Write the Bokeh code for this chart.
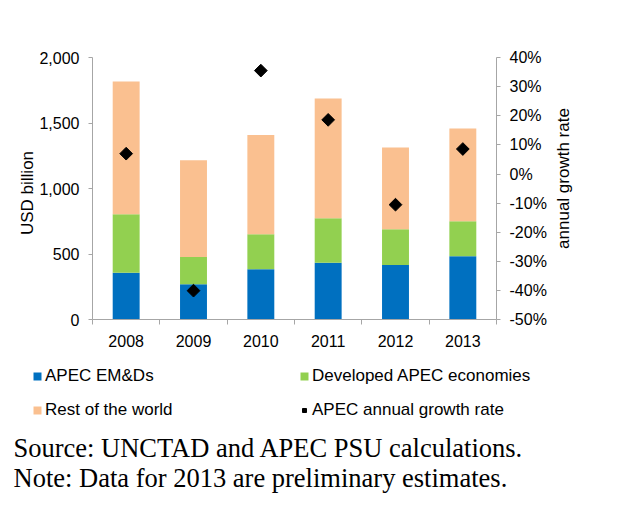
from bokeh.plotting import figure
from bokeh.models import (Range1d, LinearAxis, FixedTicker, NumeralTickFormatter,
                          PrintfTickFormatter, Legend, LegendItem, Label)
from bokeh.embed import file_html
from bokeh.resources import INLINE
import math

# ---- data ----
years = [2008, 2009, 2010, 2011, 2012, 2013]
apec_emds = [358, 272, 386, 435, 417, 485]
developed_apec = [447, 206, 267, 340, 274, 267]
rest_of_world = [1012, 739, 757, 912, 623, 707]
growth_rate = [7.0, -40.0, 35.5, 18.6, -10.5, 8.6]
series_names = ["APEC EM&Ds", "Developed APEC economies", "Rest of the world"]
growth_name = "APEC annual growth rate"
colors = ["#0070C0", "#92D050", "#FAC090"]
left_ticks = [0, 500, 1000, 1500, 2000]
right_ticks = [-50, -40, -30, -20, -10, 0, 10, 20, 30, 40]
y_title = "USD billion"
y2_title = "annual growth rate"
source_note = "Source: UNCTAD and APEC PSU calculations."
data_note = "Note: Data for 2013 are preliminary estimates."

# ---- layout (pixels) ----
W, H = 638, 519
PL, PR, PT, PB = 92, 496, 57, 319.3     # plot-area edges in the canvas
FONT = "Liberation Sans"
AXIS_GRAY = "#A6A6A6"

x0, x1 = years[0] - 0.5, years[-1] + 0.5
ux = (x1 - x0) / (PR - PL)
l0, l1 = left_ticks[0], left_ticks[-1]
ul = (l1 - l0) / (PB - PT)
r0, r1 = right_ticks[0], right_ticks[-1]
ur = (r1 - r0) / (PB - PT)

p = figure(width=W, height=H, output_backend="svg", toolbar_location=None,
           x_range=Range1d(x0 - PL * ux, x1 + (W - PR) * ux),
           y_range=Range1d(l0 - (H - PB) * ul, l1 + PT * ul),
           min_border=0, x_axis_location="below", y_axis_location="left")
p.outline_line_color = None
p.grid.visible = False
p.extra_y_ranges = {"growth": Range1d(r0 - (H - PB) * ur, r1 + PT * ur)}

src = dict(x=years)
for n, v in zip(series_names, [apec_emds, developed_apec, rest_of_world]):
    src[n] = v
bars = p.vbar_stack(series_names, x="x", width=0.4, color=colors, line_color=None,
                    source=src)
pts = p.scatter(years, growth_rate, marker="square", size=9, angle=math.pi / 4,
                color="black", y_range_name="growth")

# x axis
xa = p.xaxis[0]
xa.fixed_location = l0
xa.bounds = (x0, x1)
xa.ticker = FixedTicker(ticks=years,
                        minor_ticks=[y - 0.5 for y in years] + [years[-1] + 0.5])
xa.major_tick_out = 0
xa.major_tick_in = 0
xa.minor_tick_out = 5
xa.minor_tick_in = 0
xa.major_label_standoff = 10

# left axis
ya = p.yaxis[0]
ya.fixed_location = x0
ya.bounds = (l0, l1)
ya.ticker = FixedTicker(ticks=left_ticks)
ya.formatter = NumeralTickFormatter(format="0,0")
ya.major_label_standoff = 9

# right axis
ra = LinearAxis(y_range_name="growth", ticker=FixedTicker(ticks=right_ticks),
                formatter=PrintfTickFormatter(format="%d%%"))
ra.fixed_location = x1
ra.bounds = (r0, r1)
ra.major_label_standoff = 9
p.add_layout(ra, "right")

for ax in [xa, ya, ra]:
    ax.axis_line_color = AXIS_GRAY
    ax.major_tick_line_color = AXIS_GRAY
    ax.minor_tick_line_color = AXIS_GRAY
    ax.major_label_text_font = FONT
    ax.major_label_text_font_size = "16px"
    ax.major_label_text_color = "black"
for ax in [ya, ra]:
    ax.major_tick_out = 4
    ax.major_tick_in = 0
    ax.minor_tick_out = 0
    ax.minor_tick_in = 0

# axis titles
p.add_layout(Label(x=27, y=H - 192.5, x_units="screen", y_units="screen",
                   text=y_title, angle=90, angle_units="deg",
                   text_align="center", text_baseline="middle",
                   text_font=FONT, text_font_size="17px", text_color="black"))
p.add_layout(Label(x=562.5, y=H - 178, x_units="screen", y_units="screen",
                   text=y2_title, angle=90, angle_units="deg",
                   text_align="center", text_baseline="middle",
                   text_font=FONT, text_font_size="17px", text_color="black"))

# legend (filled column by column: col 1 = EM&Ds, Rest; col 2 = Developed, growth)
by_name = {n: LegendItem(label=n, renderers=[r]) for n, r in zip(series_names, bars)}
items = [by_name[series_names[0]], by_name[series_names[2]],
         by_name[series_names[1]], LegendItem(label=growth_name, renderers=[pts])]
legend = Legend(items=items, ncols=2, location=(32, 99),
                glyph_width=10, glyph_height=10, label_standoff=3,
                label_width=240, label_height=20, spacing=14, padding=0,
                margin=0, border_line_color=None, background_fill_alpha=0,
                label_text_font=FONT, label_text_font_size="17px",
                label_text_color="black")
p.add_layout(legend, "center")

# footnotes
for txt, base in [(source_note, 447), (data_note, 477)]:
    p.add_layout(Label(x=13, y=H - base, x_units="screen", y_units="screen",
                       text=txt, text_align="left", text_baseline="alphabetic",
                       text_font="Liberation Serif", text_font_size="26.5px",
                       text_color="black"))

open("out.html", "w").write(file_html(p, INLINE))
